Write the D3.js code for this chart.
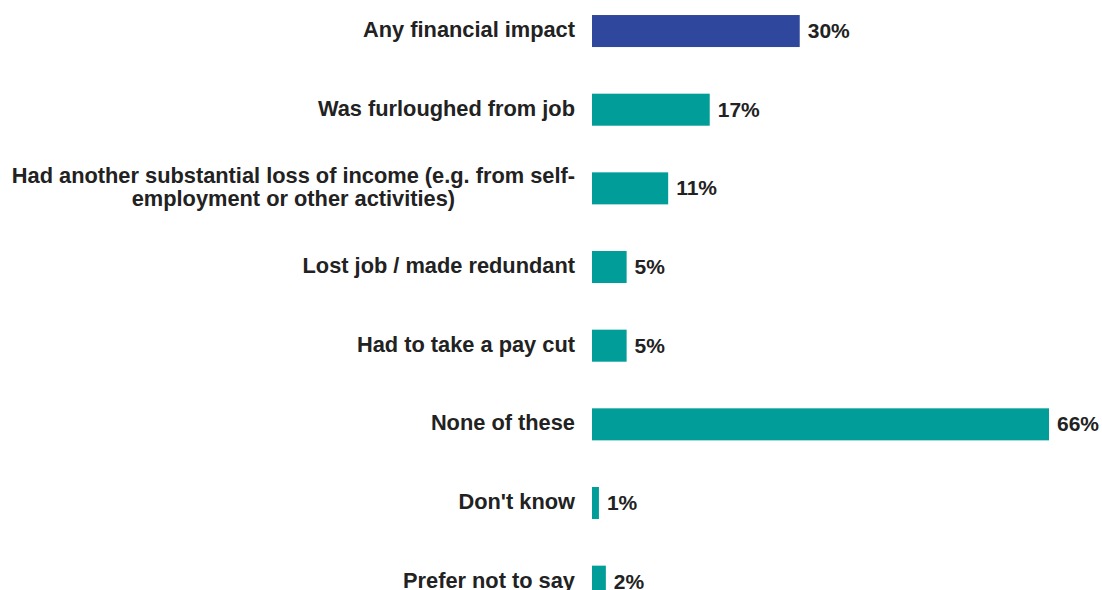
<!DOCTYPE html>
<html>
<head>
<meta charset="utf-8">
<script src="https://cdn.jsdelivr.net/npm/d3@7"></script>
<style>
  html, body { margin: 0; padding: 0; background: #ffffff; }
  svg { display: block; }
  text { font-family: "Liberation Sans", Arial, Helvetica, sans-serif; font-weight: bold; fill: #222222; }
</style>
</head>
<body>
<svg id="chart" width="1102" height="590"></svg>
<script>
// Financial impact responses (share of respondents, %)
const categories = [
  "Any financial impact",
  "Was furloughed from job",
  "Had another substantial loss of income (e.g. from self-|employment or other activities)",
  "Lost job / made redundant",
  "Had to take a pay cut",
  "None of these",
  "Don't know",
  "Prefer not to say"
];
const values = [30, 17, 11, 5, 5, 66, 1, 2];
const barColors = ["#2f479c", "#009d99", "#009d99", "#009d99", "#009d99", "#009d99", "#009d99", "#009d99"];

const svg = d3.select("#chart");

const x = d3.scaleLinear().domain([0, 66]).range([592, 1049]);
const y = d3.scaleBand()
  .domain(categories)
  .range([-8.3, 621])
  .paddingInner(0.593)
  .paddingOuter(0.2965);

const rows = svg.selectAll("g.row")
  .data(categories.map((c, i) => ({ cat: c, value: values[i], color: barColors[i] })))
  .join("g")
  .attr("class", "row");

rows.append("rect")
  .attr("x", x(0))
  .attr("y", d => y(d.cat))
  .attr("width", d => x(d.value) - x(0))
  .attr("height", y.bandwidth())
  .attr("fill", d => d.color);

rows.append("text")
  .attr("x", d => x(d.value) + 8)
  .attr("y", d => y(d.cat) + y.bandwidth() / 2)
  .attr("dy", "0.34em")
  .attr("font-size", 21)
  .text(d => d.value + "%");

// Category labels: lines centred on each other, block right-aligned to the bars
const lineHeight = 23;
rows.each(function(d) {
  const lines = d.cat.split("|");
  const g = d3.select(this);
  const cy = y(d.cat) + y.bandwidth() / 2 - (lines.length > 1 ? 1.5 : 1.5);
  const t = g.append("text")
    .attr("font-size", 21.8)
    .attr("text-anchor", "middle");
  lines.forEach((ln, k) => {
    t.append("tspan")
      .attr("y", cy + (k - (lines.length - 1) / 2) * lineHeight)
      .attr("dy", "0.34em")
      .text(ln);
  });
  const spans = t.selectAll("tspan").nodes();
  const maxW = d3.max(spans, s => s.getComputedTextLength());
  t.selectAll("tspan").attr("x", 575 - maxW / 2);
});
</script>
</body>
</html>
